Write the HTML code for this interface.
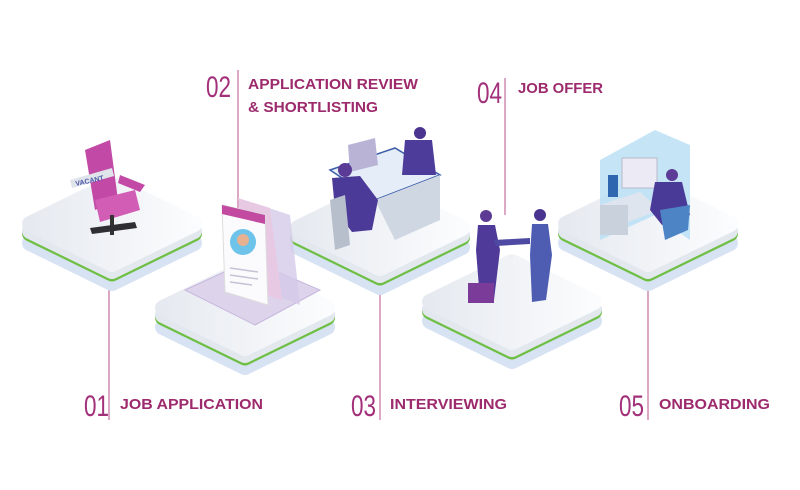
<!DOCTYPE html>
<html><head><meta charset="utf-8"><style>
html,body{margin:0;padding:0;background:#fff}
svg{display:block}
.n{font-family:"Liberation Sans",sans-serif;font-size:30px;fill:#a2307a;font-weight:normal}
.l{font-family:"Liberation Sans",sans-serif;font-size:15px;font-weight:bold;fill:#9c2a6c}
</style></head><body>
<svg width="800" height="490" viewBox="0 0 800 490" xmlns="http://www.w3.org/2000/svg">
<defs>
<linearGradient id="tf" x1="0" y1="0" x2="1" y2="0"><stop offset="0" stop-color="#e6eaf0"/><stop offset="1" stop-color="#fbfcfd"/></linearGradient>
<g id="plat">
<polygon points="-82,19 0,59 82,19 0,-21" fill="#d7e3f3" stroke="#d7e3f3" stroke-width="16" stroke-linejoin="round"/>
<polygon points="-82,9.5 0,49.5 82,9.5 0,-30.5" fill="#6fbf45" stroke="#6fbf45" stroke-width="16" stroke-linejoin="round"/>
<polygon points="-82,7 0,47 82,7 0,-33" fill="#e3e8ef" stroke="#e3e8ef" stroke-width="16" stroke-linejoin="round"/>
<polygon points="-82,0 0,40 82,0 0,-40" fill="url(#tf)" stroke="url(#tf)" stroke-width="16" stroke-linejoin="round"/>
</g>
</defs>
<g stroke="#c97aa8" stroke-width="1.3">
<line x1="109" y1="290" x2="109" y2="420"/>
<line x1="238" y1="70" x2="238" y2="250"/>
<line x1="380" y1="290" x2="380" y2="420"/>
<line x1="505" y1="78" x2="505" y2="215"/>
<line x1="648" y1="290" x2="648" y2="420"/>
</g>
<use href="#plat" x="112" y="224"/>
<use href="#plat" x="380" y="228"/>
<use href="#plat" x="648" y="224"/>
<!-- chair -->
<g>
<polygon points="85,150 110,140 118,200 95,210" fill="#c24aa6"/>
<polygon points="95,200 135,190 140,210 100,222" fill="#d15db4"/>
<polygon points="120,175 145,185 140,192 118,183" fill="#c24aa6"/>
<polygon points="70,180 112,168 114,176 72,188" fill="#dfe3ea"/>
<text x="76" y="186" font-family="Liberation Sans,sans-serif" font-size="7" font-weight="bold" fill="#4b55a8" transform="rotate(-12 76 186)">VACANT</text>
<rect x="110" y="215" width="4" height="20" fill="#333"/>
<polygon points="90,228 135,222 137,228 92,234" fill="#2f2f33"/>
</g>
<!-- desk scene -->
<g>
<polygon points="330,170 395,148 440,175 375,200" fill="#e4edf8" stroke="#3b5ca8" stroke-width="1.5"/>
<polygon points="375,200 440,175 440,220 395,240" fill="#cfd7e2"/>
<polygon points="348,145 375,138 378,165 350,172" fill="#b9b4d6"/>
<circle cx="420" cy="133" r="6" fill="#4a3490"/>
<polygon points="405,140 432,140 436,175 402,175" fill="#4d3c9a"/>
<circle cx="345" cy="170" r="7" fill="#5a3b95"/>
<polygon points="332,178 360,176 378,200 372,230 352,232 335,210" fill="#4c3a98"/>
<polygon points="330,200 345,195 350,245 335,250" fill="#b8bfcc"/>
</g>
<!-- cubicle -->
<g>
<polygon points="600,160 655,130 690,145 690,240 655,215 600,240" fill="#b6def5" opacity=".8"/>
<rect x="622" y="158" width="35" height="30" fill="#ecebf5" stroke="#b9b9c9"/>
<polygon points="600,205 640,192 660,210 620,225" fill="#dfe5ee"/>
<rect x="600" y="205" width="28" height="30" fill="#c9d1dd"/>
<circle cx="672" cy="175" r="6" fill="#5e3b97"/>
<polygon points="655,182 682,182 690,215 662,225 650,210" fill="#4a3a98"/>
<polygon points="660,210 690,205 688,230 665,240" fill="#4d84c6"/>
<rect x="608" y="175" width="10" height="22" fill="#2f66b0"/>
</g>
<use href="#plat" x="245" y="308"/>
<use href="#plat" x="512" y="302"/>
<!-- resume laptop -->
<g>
<polygon points="185,290 250,260 320,290 255,325" fill="#ddd3ea" stroke="#c6b7de"/>
<polygon points="260,205 290,215 300,305 275,295" fill="#d5cbe8" opacity=".8"/>
<polygon points="238,198 270,208 282,300 250,290" fill="#e8c9e3"/>
<polygon points="222,205 265,215 268,305 225,292" fill="#fbfbfd" stroke="#ddd"/>
<polygon points="222,205 265,215 265,224 222,214" fill="#c24aa0"/>
<circle cx="243" cy="242" r="13" fill="#6ec3ea"/>
<circle cx="243" cy="240" r="6" fill="#e7b08e"/>
<g stroke="#c3c3d6" stroke-width="1.5"><line x1="230" y1="268" x2="258" y2="272"/><line x1="230" y1="275" x2="258" y2="279"/><line x1="230" y1="282" x2="252" y2="285"/></g>
</g>
<!-- handshake -->
<g>
<circle cx="486" cy="216" r="6" fill="#5d3b94"/>
<polygon points="478,225 495,225 500,250 494,300 480,300 476,250" fill="#4f3a9a"/>
<circle cx="540" cy="215" r="6" fill="#4a3490"/>
<polygon points="532,224 548,224 552,255 546,300 532,302 530,255" fill="#4e5db1"/>
<polygon points="494,240 530,238 530,244 496,246" fill="#4e4aa3"/>
<rect x="468" y="283" width="26" height="20" fill="#7a3c98"/>
</g>
<!-- labels -->
<text class="n" x="84" y="416" transform="translate(84 0) scale(0.75 1) translate(-84 0)">01</text>
<text class="l" x="120" y="409" textLength="143" lengthAdjust="spacingAndGlyphs">JOB APPLICATION</text>
<text class="n" x="206" y="97" transform="translate(206 0) scale(0.75 1) translate(-206 0)">02</text>
<text class="l" x="248" y="89" textLength="170" lengthAdjust="spacingAndGlyphs">APPLICATION REVIEW</text>
<text class="l" x="248" y="112" textLength="130" lengthAdjust="spacingAndGlyphs">&amp; SHORTLISTING</text>
<text class="n" x="351" y="416" transform="translate(351 0) scale(0.75 1) translate(-351 0)">03</text>
<text class="l" x="390" y="409" textLength="117" lengthAdjust="spacingAndGlyphs">INTERVIEWING</text>
<text class="n" x="477" y="103" transform="translate(477 0) scale(0.75 1) translate(-477 0)">04</text>
<text class="l" x="518" y="93" textLength="85" lengthAdjust="spacingAndGlyphs">JOB OFFER</text>
<text class="n" x="619" y="416" transform="translate(619 0) scale(0.75 1) translate(-619 0)">05</text>
<text class="l" x="659" y="409" textLength="111" lengthAdjust="spacingAndGlyphs">ONBOARDING</text>
</svg>
</body></html>
